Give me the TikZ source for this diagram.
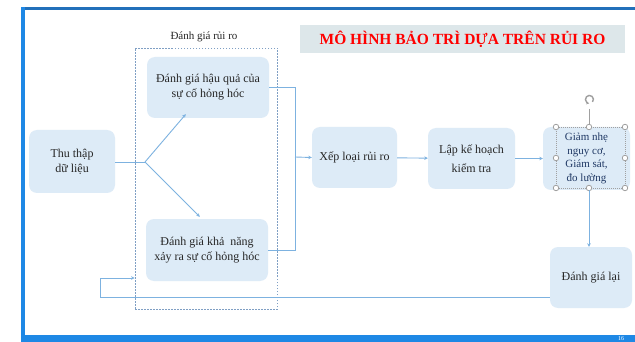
\documentclass[tikz,border=0pt]{standalone}
\usepackage{fontspec}
\setmainfont{Liberation Serif}
\usetikzlibrary{arrows.meta,calc}
\definecolor{boxfill}{HTML}{DDEBF7}
\definecolor{titlefill}{HTML}{DDE7EA}
\definecolor{linecol}{HTML}{7DB2E0}
\definecolor{dashcol}{HTML}{7F9FC4}
\definecolor{textgray}{HTML}{262626}
\definecolor{textblue}{HTML}{1F3864}
\definecolor{topblue}{HTML}{2270BA}
\definecolor{sideblue}{HTML}{1E88E5}
\definecolor{handlecol}{HTML}{A0A0A0}
\tikzset{
  box/.style={fill=boxfill, rounded corners=8pt, align=center, text=textgray,
    font=\fontsize{12}{15}\selectfont, inner sep=2pt},
  grpbox/.style={draw=dashcol, dash pattern=on 1.5pt off 1.5pt, line width=0.8pt},
  conn/.style={draw=linecol, line width=0.9pt},
  arr/.style={conn, -{Stealth[length=3.5pt,width=3.5pt]}},
  handle/.style={circle, draw=handlecol, fill=white, line width=0.8pt, inner sep=0pt, minimum size=5.5pt},
}
\begin{document}
\begin{tikzpicture}[x=1pt,y=-1pt]
\useasboundingbox (0,0) rectangle (635,342);
\clip (0,0) rectangle (635,342);
\fill[white] (0,0) rectangle (635,342);
% frame
\fill[topblue] (21,7) rectangle (635,10);
\fill[sideblue] (21,7) rectangle (25,342);
\fill[sideblue] (21,335) rectangle (635,342);
\node[text=white, font=\fontsize{6}{6}\selectfont, inner sep=0pt] (pg) at (621,338.5) {16};

% title
\node[fill=titlefill, minimum width=325pt, minimum height=28pt, inner sep=0pt,
      text=red, font=\bfseries\fontsize{15.5}{15.5}\selectfont] (title) at (462.5,39)
  {MÔ HÌNH BẢO TRÌ DỰA TRÊN RỦI RO};

% group
\node[grpbox, minimum width=142pt, minimum height=261pt, inner sep=0pt] (grp) at (206,178.5) {};
\node[text=textgray, font=\fontsize{11}{12}\selectfont] (grplabel) at (204,37) {Đánh giá rủi ro};

% nodes
\node[box, minimum width=86pt, minimum height=63pt] (thu) at (72,161.5) {Thu thập\\dữ liệu};
\node[box, minimum width=122pt, minimum height=61pt] (hq) at (208,87.5) {Đánh giá hậu quả của\\sự cố hỏng hóc};
\node[box, minimum width=122pt, minimum height=62pt] (kn) at (207,250) {Đánh giá khả~~năng\\xảy ra sự cố hỏng hóc};
\node[box, minimum width=85pt, minimum height=61pt] (xl) at (354.5,157.5) {Xếp loại rủi ro};
\node[box, minimum width=87pt, minimum height=61pt, font=\fontsize{12}{19}\selectfont] (lap) at (471.5,158.5) {Lập kế hoạch\\kiểm tra};
\node[box, minimum width=87pt, minimum height=63pt, text=textblue, font=\fontsize{11}{13.5}\selectfont] (gn) at (586.5,158.5) {Giảm nhẹ\\nguy cơ,\\Giám sát,\\đo lường};
\node[box, minimum width=82pt, minimum height=61pt] (dgl) at (591,277.5) {Đánh giá lại};

% selection frame and handles of gn
\draw[handlecol, line width=0.5pt, dash pattern=on 1pt off 1pt] (556,127) rectangle (625,188);
\draw[handlecol, line width=0.8pt] (589,109) -- (589,127);
\draw[handlecol, line width=1.4pt, -{Stealth[length=2.5pt,width=3pt]}] (592.5,102) arc[start angle=-40, end angle=260, radius=4pt];
\foreach \hx/\hy in {556/127,589/127,625/127,556/158,625/158,556/188,589/188,625/188}
  \node[handle] at (\hx,\hy) {};

% connectors
\coordinate (br) at (145,162);
\draw[conn] (thu.east |- br) -- (br);
\draw[arr] (br) -- ($(hq.south west)+(39,-4)$);
\draw[arr] (br) -- ($(kn.north west)+(54,-2)$);
\coordinate (jn) at (295,157);
\draw[conn] (hq.east) -| (jn);
\draw[conn] (kn.east) -| (jn);
\draw[arr] (jn) -- (xl.west);
\draw[arr] (xl) -- (lap);
\draw[arr] (lap) -- (gn);
\draw[arr] (gn.south -| 589,0) -- (dgl.north -| 589,0);
\coordinate (fb1) at (100,297);
\coordinate (fb2) at (100,278);
\draw[arr] (dgl.west |- fb1) -- (fb1) -- (fb2) -- (grp.west |- fb2);
\end{tikzpicture}
\end{document}
